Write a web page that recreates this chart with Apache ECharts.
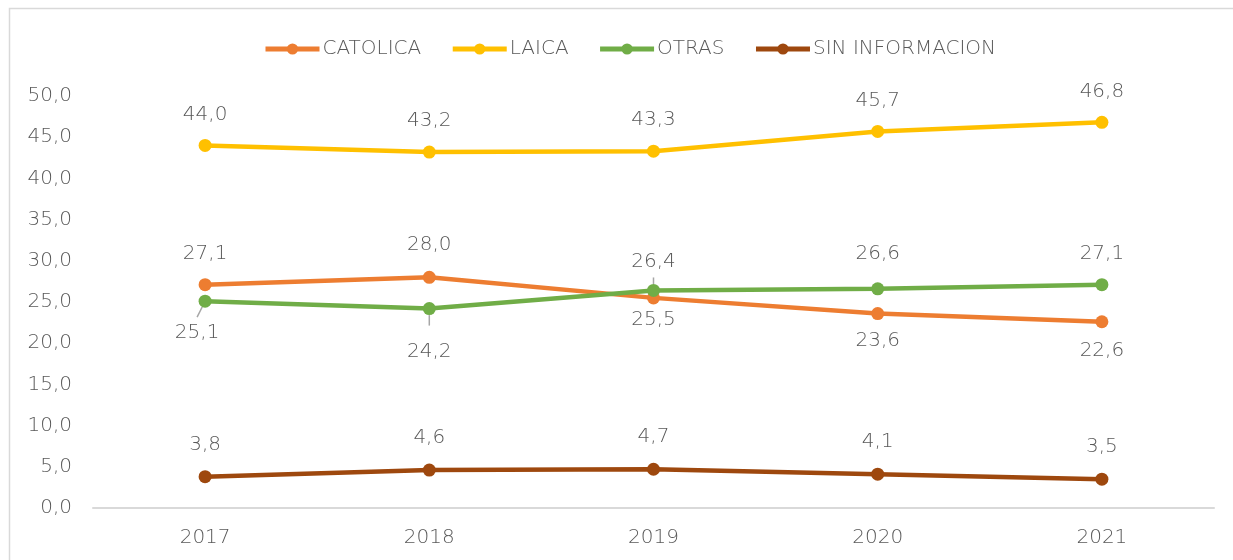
<!DOCTYPE html>
<html>
<head>
<meta charset="utf-8">
<script src="https://cdn.jsdelivr.net/npm/echarts@6/dist/echarts.min.js"></script>
<style>
  html, body { margin: 0; padding: 0; background: #fff; }
  #chart { width: 1233px; height: 560px; }
</style>
</head>
<body>
<div id="chart"></div>
<script>
// datos
const years = ['2017', '2018', '2019', '2020', '2021'];
const catolica = [27.1, 28.0, 25.5, 23.6, 22.6];
const laica = [44.0, 43.2, 43.3, 45.7, 46.8];
const otras = [25.1, 24.2, 26.4, 26.6, 27.1];
const sinInfo = [3.8, 4.6, 4.7, 4.1, 3.5];

// desplazamiento de etiquetas [dx, dy] relativo al punto
const catolicaLbl = [[0, -31], [0, -32], [0, 22], [0, 27], [0, 29]];
const laicaLbl = [[0, -31], [0, -31], [0, -31], [0, -31], [0, -31]];
const otrasLbl = [[-8, 32], [0, 43], [0, -29], [0, -35], [0, -31]];
const sinInfoLbl = [[0, -32], [0, -32], [0, -32], [0, -32], [0, -32]];
// líneas guía (solo OTRAS): hueco entre fin de guía y texto (+ abajo, - arriba)
const otrasGuide = [true, true, true, false, false];
const otrasGap = [6, 16, -6, 0, 0];

const FONT = '"DejaVu Sans ExtraLight", "DejaVu Sans Light", "DejaVu Sans"';
const TXT = '#595959';
const FS = 20;

const fmt = v => v.toFixed(1).replace('.', ',');

const makeSeries = (name, values, color, offsets, guides, gaps) => ({
  name,
  type: 'line',
  data: values.map((v, i) => ({
    value: v,
    labelLine: { show: !!(guides && guides[i]) },
  })),
  symbol: 'circle',
  symbolSize: 13,
  lineStyle: { color, width: 4.5 },
  itemStyle: { color },
  label: {
    show: true,
    position: 'inside',
    color: TXT,
    fontFamily: FONT,
    fontWeight: 200,
    fontSize: FS,
    formatter: p => {
      const g = Math.abs(gaps ? gaps[p.dataIndex] : 0);
      const txt = '{v|' + fmt(p.value) + '}';
      if (g) return '{g' + g + '| }\n' + txt + '\n{g' + g + '| }';
      return txt;
    },
    rich: {
      v: { color: TXT, fontFamily: FONT, fontWeight: 200, fontSize: FS },
      g6: { fontSize: 1, height: 6, lineHeight: 6 },
      g16: { fontSize: 1, height: 16, lineHeight: 16 },
    },
  },
  labelLayout: p => ({ dx: offsets[p.dataIndex][0], dy: offsets[p.dataIndex][1] }),
  labelLine: { show: false, lineStyle: { color: '#a6a6a6', width: 1.5 }, length2: 0 },
  emphasis: { disabled: true },
  animation: false,
});

const chart = echarts.init(document.getElementById('chart'));
const option = {
  backgroundColor: '#fff',
  color: ['#ED7D31', '#FFC000', '#70AD47', '#9E480E'],
  graphic: [{
    type: 'rect',
    shape: { x: 9.5, y: 8.5, width: 1400, height: 700 },
    style: { fill: 'none', stroke: '#d9d9d9', lineWidth: 1.5 },
    silent: true,
  }],
  legend: {
    top: 34,
    left: 258,
    itemWidth: 54,
    itemHeight: 14,
    itemGap: 29,
    lineStyle: { width: 5 },
    textStyle: { color: TXT, fontFamily: FONT, fontWeight: 200, fontSize: FS, padding: [0, 0, 0, -2] },
    data: ['CATOLICA', 'LAICA', 'OTRAS', 'SIN INFORMACION'],
  },
  grid: { left: 93, right: 19, top: 96, bottom: 52 },
  xAxis: {
    type: 'category',
    data: years,
    axisLine: { lineStyle: { color: '#d9d9d9', width: 2 } },
    axisTick: { show: false },
    axisLabel: { color: TXT, fontFamily: FONT, fontWeight: 200, fontSize: FS, margin: 20 },
  },
  yAxis: {
    type: 'value',
    min: 0,
    max: 50,
    interval: 5,
    axisLine: { show: false },
    axisTick: { show: false },
    splitLine: { show: false },
    axisLabel: { color: TXT, fontFamily: FONT, fontWeight: 200, fontSize: FS, margin: 21, formatter: v => fmt(v) },
  },
  series: [
    makeSeries('CATOLICA', catolica, '#ED7D31', catolicaLbl),
    makeSeries('LAICA', laica, '#FFC000', laicaLbl),
    makeSeries('OTRAS', otras, '#70AD47', otrasLbl, otrasGuide, otrasGap),
    makeSeries('SIN INFORMACION', sinInfo, '#9E480E', sinInfoLbl),
  ],
};
chart.setOption(option);
</script>
</body>
</html>
